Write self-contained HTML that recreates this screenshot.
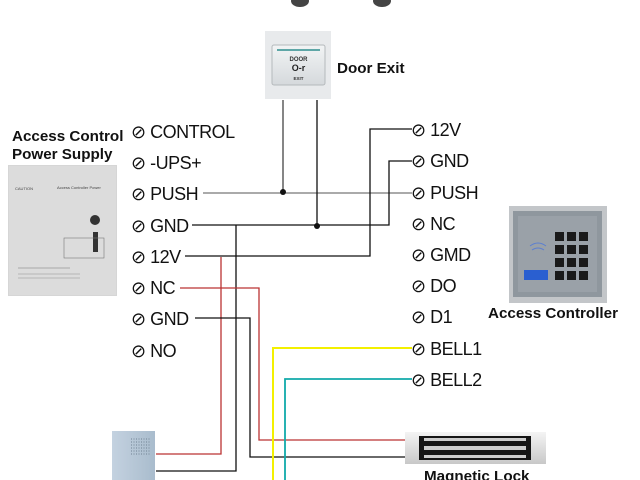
<!DOCTYPE html>
<html><head><meta charset="utf-8"><style>
html,body{margin:0;padding:0;background:#fff;width:640px;height:480px;overflow:hidden}
svg{display:block}
text{font-family:"Liberation Sans",Arial,sans-serif}
.t{font-size:18px;fill:#111;letter-spacing:-0.5px}
.b{font-size:15.2px;font-weight:bold;fill:#111}
</style></head><body>
<svg width="640" height="480" viewBox="0 0 640 480" xmlns="http://www.w3.org/2000/svg">
<defs>
<linearGradient id="plate" x1="0" y1="0" x2="0" y2="1"><stop offset="0" stop-color="#f2f4f5"/><stop offset="1" stop-color="#d5d9dc"/></linearGradient>
<linearGradient id="lk" x1="0" y1="0" x2="0" y2="1"><stop offset="0" stop-color="#f4f4f4"/><stop offset="1" stop-color="#c8c8c8"/></linearGradient>
<linearGradient id="bz" x1="0" y1="0" x2="1" y2="0"><stop offset="0" stop-color="#c4d2e0"/><stop offset="1" stop-color="#a9bccd"/></linearGradient>
</defs>
<ellipse cx="300" cy="1" rx="9" ry="6" fill="#444"/>
<ellipse cx="382" cy="1" rx="9" ry="6" fill="#444"/>

<rect x="8" y="165" width="109" height="131" fill="#d6d6d6"/>
<rect x="9" y="166" width="107" height="129" fill="#dcdcdc"/>
<text x="15" y="190" font-size="4" fill="#444">CAUTION</text>
<text x="57" y="189" font-size="4" fill="#444">Access Controller Power</text>
<circle cx="95" cy="220" r="5" fill="#333"/>
<rect x="93" y="232" width="5" height="20" fill="#333"/>
<rect x="64" y="238" width="40" height="20" fill="none" stroke="#777" stroke-width="0.6"/>
<line x1="18" y1="268" x2="70" y2="268" stroke="#999" stroke-width="0.8"/>
<line x1="18" y1="274" x2="80" y2="274" stroke="#aaa" stroke-width="0.8"/>
<line x1="18" y1="278" x2="80" y2="278" stroke="#aaa" stroke-width="0.8"/>
<text x="12" y="141" class="b">Access Control</text>
<text x="12" y="159" class="b">Power Supply</text>

<rect x="265" y="31" width="66" height="68" fill="#e8eaec"/>
<rect x="272" y="45" width="53" height="40" rx="2" fill="url(#plate)" stroke="#b5b9bc" stroke-width="1"/>
<line x1="277" y1="50" x2="320" y2="50" stroke="#2e8e8e" stroke-width="1.5"/>
<text x="298.5" y="61" font-size="6" font-weight="bold" text-anchor="middle" fill="#333">DOOR</text>
<text x="298.5" y="71" font-size="9" font-weight="bold" text-anchor="middle" fill="#222">O-r</text>
<text x="298.5" y="80" font-size="4.5" font-weight="bold" text-anchor="middle" fill="#333">EXIT</text>
<text x="337" y="73" class="b">Door Exit</text>

<rect x="509" y="206" width="98" height="97" fill="#c3c6c9"/>
<rect x="513" y="211" width="89" height="86" fill="#8f979e"/>
<rect x="518" y="216" width="79" height="76" fill="#9aa1a8"/>
<g fill="#1a1a1a">
<rect x="555" y="232" width="9" height="9"/><rect x="567" y="232" width="9" height="9"/><rect x="579" y="232" width="9" height="9"/>
<rect x="555" y="245" width="9" height="9"/><rect x="567" y="245" width="9" height="9"/><rect x="579" y="245" width="9" height="9"/>
<rect x="555" y="258" width="9" height="9"/><rect x="567" y="258" width="9" height="9"/><rect x="579" y="258" width="9" height="9"/>
<rect x="555" y="271" width="9" height="9"/><rect x="567" y="271" width="9" height="9"/><rect x="579" y="271" width="9" height="9"/>
</g>
<rect x="524" y="270" width="24" height="10" fill="#2a5fd0"/>
<path d="M530 246 q8 -6 16 0 M532 250 q6 -4 12 0" stroke="#5c7fd0" fill="none" stroke-width="1"/>
<text x="488" y="318" class="b">Access Controller</text>

<rect x="405" y="432" width="141" height="32" fill="url(#lk)"/>
<rect x="419" y="436" width="112" height="24" fill="#151515"/>
<rect x="424" y="438" width="102" height="3" fill="#ccc"/>
<rect x="424" y="446" width="102" height="4" fill="#ccc"/>
<rect x="424" y="455" width="102" height="3" fill="#ccc"/>
<text x="424" y="481" class="b">Magnetic Lock</text>

<rect x="112" y="431" width="43" height="49" fill="url(#bz)"/>
<g stroke="#6f8192" stroke-width="1" stroke-dasharray="1 1.5">
<line x1="131" y1="439" x2="150" y2="439"/><line x1="131" y1="442" x2="150" y2="442"/><line x1="131" y1="445" x2="150" y2="445"/><line x1="131" y1="448" x2="150" y2="448"/><line x1="131" y1="451" x2="150" y2="451"/><line x1="131" y1="454" x2="150" y2="454"/>
</g>

<g fill="none" stroke-width="1.3">
<polyline points="283,100 283,193" stroke="#444"/>
<polyline points="203,193 412,193" stroke="#777"/>
<polyline points="317,100 317,225" stroke="#111"/>
<polyline points="192,225 389,225 389,161 412,161" stroke="#111"/>
<polyline points="185,256 370,256 370,129 412,129" stroke="#111"/>
<polyline points="236,225 236,471 156,471" stroke="#111"/>
<polyline points="221,257 221,454 156,454" stroke="#b33"/>
<polyline points="180,288 259,288 259,440 405,440" stroke="#b33"/>
<polyline points="195,318 250,318 250,457 405,457" stroke="#111"/>
<polyline points="412,348 273,348 273,480" stroke="#f3f000" stroke-width="2"/>
<polyline points="412,379 285,379 285,480" stroke="#1aa" stroke-width="1.8"/>
</g>
<circle cx="283" cy="192" r="3" fill="#111"/>
<circle cx="317" cy="226" r="3" fill="#111"/>

<g class="t">
<text x="131" y="138">⊘ CONTROL</text>
<text x="131" y="169">⊘ -UPS+</text>
<text x="131" y="200">⊘ PUSH</text>
<text x="131" y="232">⊘ GND</text>
<text x="131" y="263">⊘ 12V</text>
<text x="131" y="294">⊘ NC</text>
<text x="131" y="325">⊘ GND</text>
<text x="131" y="357">⊘ NO</text>
</g>
<g class="t">
<text x="411" y="136">⊘ 12V</text>
<text x="411" y="167">⊘ GND</text>
<text x="411" y="199">⊘ PUSH</text>
<text x="411" y="230">⊘ NC</text>
<text x="411" y="261">⊘ GMD</text>
<text x="411" y="292">⊘ DO</text>
<text x="411" y="323">⊘ D1</text>
<text x="411" y="355">⊘ BELL1</text>
<text x="411" y="386">⊘ BELL2</text>
</g>
</svg>
</body></html>
